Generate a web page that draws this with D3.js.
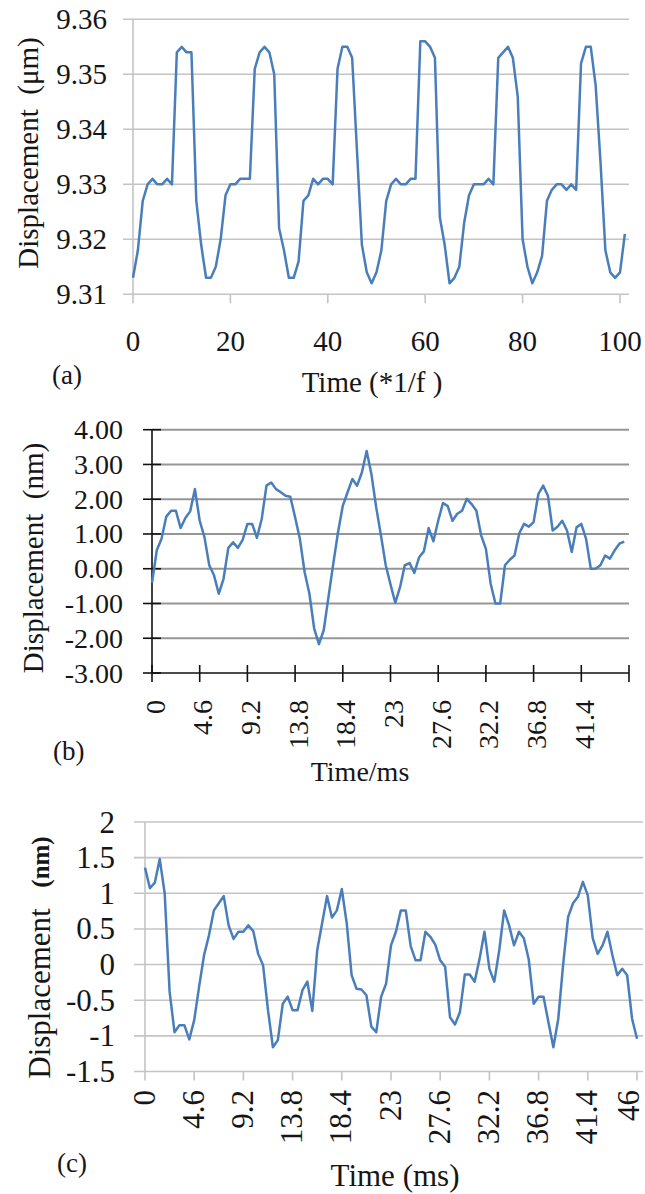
<!DOCTYPE html>
<html>
<head>
<meta charset="utf-8">
<script src="https://cdn.jsdelivr.net/npm/d3@7"></script>
<style>
  html, body { margin: 0; padding: 0; background: #fff; }
  svg { display: block; }
  text { font-family: "Liberation Serif", "Times New Roman", serif; fill: #161616; }
</style>
</head>
<body>
<svg id="fig" width="645" height="1194"></svg>
<script>
// ---- (a) displacement sampled once per period (step = 1/f) ----
const dispA = [
  9.313, 9.318, 9.327, 9.330, 9.331, 9.330, 9.330, 9.331, 9.330, 9.354,
  9.355, 9.354, 9.354, 9.327, 9.319, 9.313, 9.313, 9.315, 9.320, 9.328,
  9.330, 9.330, 9.331, 9.331, 9.331, 9.351, 9.354, 9.355, 9.354, 9.350,
  9.322, 9.318, 9.313, 9.313, 9.316, 9.327, 9.328, 9.331, 9.330, 9.331,
  9.331, 9.330, 9.351, 9.355, 9.355, 9.353, 9.336, 9.319, 9.314, 9.312,
  9.314, 9.318, 9.327, 9.330, 9.331, 9.330, 9.330, 9.331, 9.331, 9.356,
  9.356, 9.355, 9.353, 9.324, 9.319, 9.312, 9.313, 9.315, 9.323, 9.328,
  9.330, 9.330, 9.330, 9.331, 9.330, 9.353, 9.354, 9.355, 9.353, 9.346,
  9.320, 9.315, 9.312, 9.314, 9.317, 9.327, 9.329, 9.330, 9.330, 9.329,
  9.330, 9.329, 9.352, 9.355, 9.355, 9.348, 9.334, 9.318, 9.314, 9.313,
  9.314, 9.321
];
const ticksAx = [0, 20, 40, 60, 80, 100];
const ticksAy = [9.31, 9.32, 9.33, 9.34, 9.35, 9.36];

// ---- (b) displacement in nm, sample step 0.46 ms ----
const stepMs = 0.46;
const dispB = [
  -0.41, 0.53, 0.86, 1.50, 1.67, 1.67, 1.17, 1.46, 1.65, 2.29,
  1.38, 0.91, 0.10, -0.19, -0.72, -0.29, 0.60, 0.76, 0.60, 0.83,
  1.29, 1.29, 0.89, 1.43, 2.39, 2.48, 2.29, 2.20, 2.10, 2.07,
  1.48, 0.86, -0.10, -0.72, -1.72, -2.17, -1.77, -0.81, 0.14, 1.05,
  1.81, 2.20, 2.58, 2.39, 2.77, 3.39, 2.72, 1.77, 0.96, 0.10,
  -0.45, -0.98, -0.53, 0.10, 0.16, -0.12, 0.33, 0.50, 1.17, 0.79,
  1.38, 1.89, 1.80, 1.38, 1.58, 1.67, 2.01, 1.86, 1.67, 0.96,
  0.57, -0.43, -1.00, -1.00, 0.10, 0.26, 0.38, 1.02, 1.29, 1.21,
  1.34, 2.15, 2.39, 2.10, 1.10, 1.21, 1.38, 1.10, 0.48, 1.19,
  1.29, 0.86, 0.00, 0.00, 0.10, 0.38, 0.29, 0.53, 0.72, 0.78
];
const ticksBx = [0, 4.6, 9.2, 13.8, 18.4, 23, 27.6, 32.2, 36.8, 41.4, 46];
const labelsBx = ["0", "4.6", "9.2", "13.8", "18.4", "23", "27.6", "32.2", "36.8", "41.4", ""];
const ticksBy = [-3, -2, -1, 0, 1, 2, 3, 4];

// ---- (c) displacement in nm, sample step 0.46 ms ----
const dispC = [
  1.36, 1.07, 1.15, 1.48, 1.00, -0.38, -0.95, -0.85, -0.85, -1.05,
  -0.78, -0.31, 0.13, 0.41, 0.76, 0.86, 0.96, 0.55, 0.36, 0.46,
  0.46, 0.55, 0.47, 0.15, -0.01, -0.64, -1.16, -1.06, -0.55, -0.45,
  -0.64, -0.64, -0.36, -0.24, -0.65, 0.20, 0.58, 0.96, 0.66, 0.76,
  1.06, 0.58, -0.15, -0.34, -0.35, -0.43, -0.87, -0.95, -0.45, -0.27,
  0.27, 0.46, 0.76, 0.76, 0.26, 0.06, 0.06, 0.46, 0.39, 0.28,
  0.06, -0.03, -0.74, -0.84, -0.67, -0.14, -0.14, -0.24, 0.08, 0.46,
  -0.06, -0.24, 0.20, 0.76, 0.55, 0.27, 0.46, 0.37, 0.07, -0.55,
  -0.45, -0.45, -0.81, -1.16, -0.76, 0.01, 0.67, 0.86, 0.95, 1.16,
  0.97, 0.37, 0.15, 0.27, 0.46, 0.13, -0.15, -0.06, -0.15, -0.76,
  -1.04
];
const ticksCx = [0, 4.6, 9.2, 13.8, 18.4, 23, 27.6, 32.2, 36.8, 41.4, 46];
const labelsCx = ["0", "4.6", "9.2", "13.8", "18.4", "23", "27.6", "32.2", "36.8", "41.4", "46"];
const ticksCy = [-1.5, -1, -0.5, 0, 0.5, 1, 1.5, 2];

const LINE = "#4a7ebb";
const svg = d3.select("#fig");

// ================= panel (a) =================
(function () {
  const g = svg.append("g");
  const x = d3.scaleLinear().domain([0, 100]).range([133, 620]);
  const y = d3.scaleLinear().domain([9.31, 9.36]).range([294.3, 19.3]);
  const right = 629;

  g.selectAll("line.grid").data(ticksAy).join("line")
    .attr("x1", 123).attr("x2", right)
    .attr("y1", d => y(d)).attr("y2", d => y(d))
    .attr("stroke", "#c4c4c4").attr("stroke-width", 1.6);
  g.append("line").attr("x1", x(0)).attr("x2", x(0))
    .attr("y1", y(9.36)).attr("y2", y(9.31) + 9)
    .attr("stroke", "#c4c4c4").attr("stroke-width", 1.6);
  g.selectAll("line.xt").data(ticksAx.slice(1)).join("line")
    .attr("x1", d => x(d)).attr("x2", d => x(d))
    .attr("y1", y(9.31)).attr("y2", y(9.31) + 9)
    .attr("stroke", "#c4c4c4").attr("stroke-width", 1.6);

  g.selectAll("text.yl").data(ticksAy).join("text")
    .attr("x", 107).attr("y", d => y(d))
    .attr("text-anchor", "end").attr("dominant-baseline", "central")
    .attr("font-size", 29).text(d => d.toFixed(2));
  g.selectAll("text.xl").data(ticksAx).join("text")
    .attr("x", d => x(d)).attr("y", 341)
    .attr("text-anchor", "middle").attr("dominant-baseline", "central")
    .attr("font-size", 29).text(d => d);

  g.append("path").datum(dispA)
    .attr("fill", "none").attr("stroke", LINE).attr("stroke-width", 2.5)
    .attr("stroke-linejoin", "round")
    .attr("d", d3.line().x((d, i) => x(i)).y(d => y(d)));

  g.append("text").attr("x", 372).attr("y", 392).attr("text-anchor", "middle")
    .attr("font-size", 29).style("white-space", "pre").text("Time (*1/f )");
  g.append("text").attr("x", 52).attr("y", 384).attr("font-size", 27).text("(a)");
  g.append("text").attr("transform", "translate(28,153) rotate(-90)")
    .attr("text-anchor", "middle").attr("dominant-baseline", "central")
    .attr("font-size", 29).style("white-space", "pre").text("Displacement  (\u03bcm)");
})();

// ================= panel (b) =================
(function () {
  const g = svg.append("g");
  const x = d3.scaleLinear().domain([0, 46]).range([152, 629]);
  const y = d3.scaleLinear().domain([-3, 4]).range([673, 429.7]);

  g.selectAll("line.grid").data(ticksBy.slice(1)).join("line")
    .attr("x1", x(0)).attr("x2", x(46))
    .attr("y1", d => y(d)).attr("y2", d => y(d))
    .attr("stroke", "#969696").attr("stroke-width", 2);
  // axis lines
  g.append("line").attr("x1", x(0)).attr("x2", x(0))
    .attr("y1", y(4)).attr("y2", y(-3)).attr("stroke", "#111").attr("stroke-width", 1.6);
  g.append("line").attr("x1", x(0)).attr("x2", x(46))
    .attr("y1", y(-3)).attr("y2", y(-3)).attr("stroke", "#111").attr("stroke-width", 1.6);
  // crossing tick marks
  g.selectAll("line.yt").data(ticksBy).join("line")
    .attr("x1", x(0) - 9).attr("x2", x(0) + 9)
    .attr("y1", d => y(d)).attr("y2", d => y(d))
    .attr("stroke", "#111").attr("stroke-width", 1.6);
  g.selectAll("line.xt").data(ticksBx).join("line")
    .attr("x1", d => x(d)).attr("x2", d => x(d))
    .attr("y1", y(-3) - 8).attr("y2", y(-3) + 9)
    .attr("stroke", "#111").attr("stroke-width", 1.6);

  g.selectAll("text.yl").data(ticksBy).join("text")
    .attr("x", 123).attr("y", d => y(d))
    .attr("text-anchor", "end").attr("dominant-baseline", "central")
    .attr("font-size", 28).text(d => d.toFixed(2));
  g.selectAll("text.xl").data(ticksBx).join("text")
    .attr("transform", d => `translate(${x(d) + 3},700) rotate(-90)`)
    .attr("text-anchor", "end").attr("dominant-baseline", "central")
    .attr("font-size", 28).text((d, i) => labelsBx[i]);

  g.append("path").datum(dispB)
    .attr("fill", "none").attr("stroke", LINE).attr("stroke-width", 2.5)
    .attr("stroke-linejoin", "round")
    .attr("d", d3.line().x((d, i) => x(i * stepMs)).y(d => y(d)));

  g.append("text").attr("x", 360).attr("y", 781).attr("text-anchor", "middle")
    .attr("font-size", 28).text("Time/ms");
  g.append("text").attr("x", 53).attr("y", 760).attr("font-size", 27).text("(b)");
  g.append("text").attr("transform", "translate(33,558) rotate(-90)")
    .attr("text-anchor", "middle").attr("dominant-baseline", "central")
    .attr("font-size", 29).style("white-space", "pre").text("Displacement  (nm)");
})();

// ================= panel (c) =================
(function () {
  const g = svg.append("g");
  const x = d3.scaleLinear().domain([0, 46]).range([145, 637]);
  const y = d3.scaleLinear().domain([-1.5, 2]).range([1071.5, 822]);
  const right = 643;

  g.selectAll("line.grid").data(ticksCy).join("line")
    .attr("x1", 134).attr("x2", right)
    .attr("y1", d => y(d)).attr("y2", d => y(d))
    .attr("stroke", "#c4c4c4").attr("stroke-width", 1.6);
  g.append("line").attr("x1", x(0)).attr("x2", x(0))
    .attr("y1", y(2)).attr("y2", y(-1.5) + 9)
    .attr("stroke", "#c4c4c4").attr("stroke-width", 1.6);
  g.selectAll("line.xt").data(ticksCx.slice(1)).join("line")
    .attr("x1", d => x(d)).attr("x2", d => x(d))
    .attr("y1", y(-1.5)).attr("y2", y(-1.5) + 9)
    .attr("stroke", "#c4c4c4").attr("stroke-width", 1.6);

  g.selectAll("text.yl").data(ticksCy).join("text")
    .attr("x", 115).attr("y", d => y(d))
    .attr("text-anchor", "end").attr("dominant-baseline", "central")
    .attr("font-size", 31).text(d => d);
  // rotated tick labels; the last one is kept inside the page edge
  g.selectAll("text.xl").data(ticksCx).join("text")
    .attr("transform", d => `translate(${Math.min(x(d) - 1, 628)},1090) rotate(-90)`)
    .attr("text-anchor", "end").attr("dominant-baseline", "central")
    .attr("font-size", 31).text((d, i) => labelsCx[i]);

  g.append("path").datum(dispC)
    .attr("fill", "none").attr("stroke", LINE).attr("stroke-width", 2.5)
    .attr("stroke-linejoin", "round")
    .attr("d", d3.line().x((d, i) => x(i * stepMs)).y(d => y(d)));

  g.append("text").attr("x", 395).attr("y", 1186).attr("text-anchor", "middle")
    .attr("font-size", 31).text("Time (ms)");
  g.append("text").attr("x", 57).attr("y", 1172).attr("font-size", 27).text("(c)");
  g.append("text").attr("transform", "translate(39,993.5) rotate(-90)")
    .attr("text-anchor", "middle").attr("dominant-baseline", "central")
    .attr("font-size", 31).text("Displacement");
  g.append("text").attr("transform", "translate(40,862) rotate(-90)")
    .attr("text-anchor", "middle").attr("dominant-baseline", "central")
    .attr("font-size", 25).attr("font-weight", "bold").text("(nm)");
})();
</script>
</body>
</html>
